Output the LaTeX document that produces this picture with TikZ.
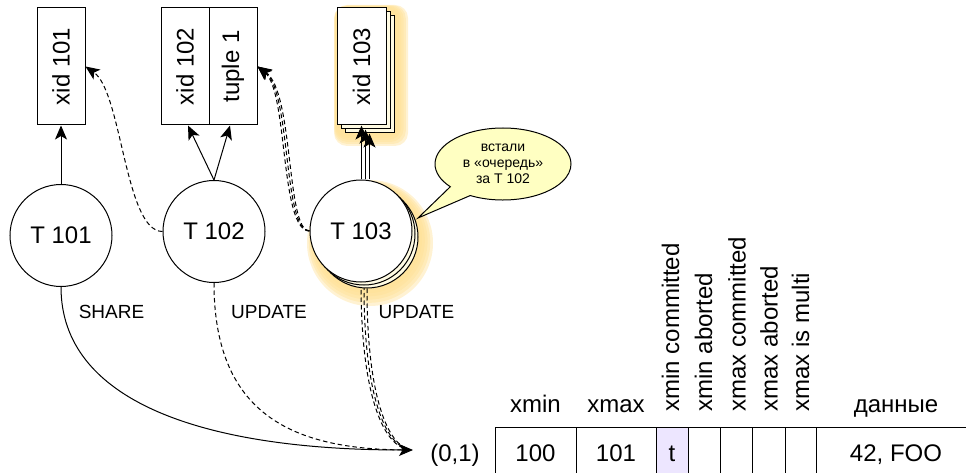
\documentclass[tikz,border=0pt]{standalone}
\usepackage{fontspec}
\setmainfont{Liberation Sans}
\usetikzlibrary{arrows.meta,shapes.callouts,shapes.geometric}
\definecolor{glowc}{HTML}{FFE196}
\definecolor{backc}{HTML}{FFFBE3}
\definecolor{callc}{HTML}{FFFFC2}
\definecolor{cellc}{HTML}{EDE6FF}
\begin{document}
\begin{tikzpicture}[x=1pt,y=-1pt,
  line width=1pt,
  >={Stealth[length=14pt,width=12pt,inset=3.5pt]},
  big/.style={font=\fontsize{24}{28}\selectfont},
  lab/.style={font=\fontsize{19}{22}\selectfont, inner sep=0},
  box/.style={draw, fill=white, minimum width=48pt, minimum height=117pt, inner sep=0, big},
  tnode/.style={draw, circle, fill=white, minimum size=102pt, inner sep=0, big},
  dsh/.style={dash pattern=on 4.5pt off 3pt},
  cell/.style={draw, minimum height=50pt, inner sep=0, text height=18pt, text depth=0pt, big},
  hdr/.style={big, inner sep=0, anchor=base},
  vhdr/.style={big, inner sep=0, anchor=south},
  glowlayer/.style={fill=glowc, fill opacity=0.42, draw=none}
]
\useasboundingbox (0,0) rectangle (966,473);
\clip (0,0) rectangle (966,473);

% glows
\foreach \k in {0,...,4} {
  \fill[glowlayer] ({370-0.5*\k},{243-1*\k}) circle[radius={63-2.2*\k}];
  \fill[glowlayer, rounded corners=13pt] ({334+0.3*\k},{5+0.3*\k}) rectangle ({408-2.2*\k},{146-2*\k});
}

% boxes
\node[box] (x101) at (61,66.5) {\rotatebox{90}{xid 101}};
\node[box] (x102) at (185,66.5) {\rotatebox{90}{xid 102}};
\node[box] (tup) at (233,66.5) {\rotatebox{90}{tuple 1}};
\node[box, fill=backc, minimum width=49pt] (x103c) at (369.5,74.5) {};
\node[box, fill=backc, minimum width=49pt] (x103b) at (365.5,70.5) {};
\node[box, minimum width=49pt] (x103) at (361.5,66.5) {\rotatebox{90}{xid 103}};

% circle anchors (invisible), circles are drawn later on top
\node[tnode, draw=none, fill=none] (T101) at (61,235.5) {};
\node[tnode, draw=none, fill=none] (T102) at (214,231.5) {};
\node[tnode, draw=none, fill=none] (T103c) at (367,237) {};
\node[tnode, draw=none, fill=none] (T103b) at (364,234) {};
\node[tnode, draw=none, fill=none] (T103) at (361,231) {};
\coordinate (tip) at (413,450);

\draw[->] (T101.north) -- (x101.south);
\draw[->] (T102.north) -- ([xshift=3pt]x102.south);
\draw[->] (T102.north) -- ([xshift=-3pt]tup.south);
\draw[->, dsh] (T102.west) .. controls (125,231.5) and (122,92) .. (x101.east);
\foreach \k in {0,1,2} {
  \draw[->, dsh] (T103.west) .. controls ({280+3*\k},231) and ({288+3*\k},92) .. (tup.east);
}
\draw[->] (x103c.south |- T103.north) -- (x103c.south);
\draw[->] (x103b.south |- T103.north) -- (x103b.south);
\draw[->] (x103.south |- T103.north) -- (x103.south);

% connectors to (0,1)
\draw[dsh, shorten >=4pt] (T103c.south) .. controls (367,400) and (389,445) .. (tip);
\draw[dsh, shorten >=4pt] (T103b.south) .. controls (364,400) and (387,446) .. (tip);
\draw[dsh, shorten >=4pt] (T103.south) .. controls (361,400) and (385,447) .. (tip);
\draw[dsh, shorten >=4pt] (T102.south) .. controls (214,420) and (300,450) .. (tip);
\draw[->] (T101.south) .. controls (61,400) and (200,450) .. (tip);

% circles
\node[tnode] (T101v) at (T101) {T 101};
\node[tnode] (T102v) at (T102) {T 102};
\node[tnode, fill=backc] (T103cv) at (T103c) {};
\node[tnode, fill=backc] (T103bv) at (T103b) {};
\node[tnode] (T103v) at (T103) {T 103};

% callout
\node[ellipse callout, draw, fill=callc, minimum width=136pt, minimum height=72pt, inner sep=0,
      callout absolute pointer={(418,218)}, callout pointer arc=22, align=center,
      font=\fontsize{14}{16}\selectfont] (note) at (503,164) {встали\\в «очередь»\\за T 102};

% labels
\node[lab] (share) at (111.5,312) {SHARE};
\node[lab] (upd1) at (269,312) {UPDATE};
\node[lab] (upd2) at (416.5,312) {UPDATE};

% table
\node[big, anchor=base, inner sep=0] (p01) at (455,461) {(0,1)};
\node[hdr] (hxmin) at (535.5,412) {xmin};
\node[hdr] (hxmax) at (616,412) {xmax};
\node[hdr] (hdata) at (896,412) {данные};
\node[vhdr] (h3) at (670.5,412) {\rotatebox{90}{xmin committed}};
\node[vhdr] (h4) at (703.5,412) {\rotatebox{90}{xmin aborted}};
\node[vhdr] (h5) at (737,412) {\rotatebox{90}{xmax committed}};
\node[vhdr] (h6) at (769,412) {\rotatebox{90}{xmax aborted}};
\node[vhdr] (h7) at (800.5,412) {\rotatebox{90}{xmax is multi}};

\node[cell, minimum width=81pt] (c1) at (535.5,452) {100};
\node[cell, minimum width=80pt] (c2) at (616,452) {101};
\node[cell, minimum width=32pt, fill=cellc] (c3) at (672,452) {t};
\node[cell, minimum width=32pt] (c4) at (704,452) {};
\node[cell, minimum width=32pt] (c5) at (736,452) {};
\node[cell, minimum width=33pt] (c6) at (768.5,452) {};
\node[cell, minimum width=31pt] (c7) at (800.5,452) {};
\node[cell, minimum width=160pt] (c8) at (896,452) {42, FOO};
\end{tikzpicture}
\end{document}
